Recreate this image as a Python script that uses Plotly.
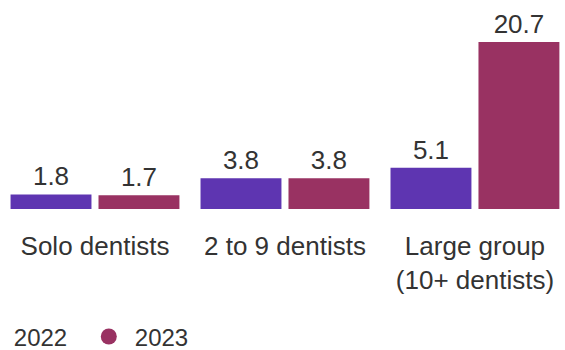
import plotly.graph_objects as go

categories = ["Solo dentists", "2 to 9 dentists", "Large group<br>(10+ dentists)"]
series_names = ["2022", "2023"]
values_2022 = [1.8, 3.8, 5.1]
values_2023 = [1.7, 3.8, 20.7]
colors = ["#5E35B1", "#993262"]

FONT = "Liberation Sans, Arial, sans-serif"
TXT = "#333333"

fig = go.Figure()
for name, vals, col in zip(series_names, [values_2022, values_2023], colors):
    fig.add_trace(go.Bar(
        x=categories, y=vals, name=name, marker=dict(color=col, line=dict(width=0)),
        text=[f"{v:.1f}" for v in vals], textposition="outside", cliponaxis=False,
        textfont=dict(family=FONT, size=26, color=TXT), showlegend=False,
    ))
    fig.add_trace(go.Scatter(
        x=[None], y=[None], mode="markers", name=name,
        marker=dict(color=col, size=20, symbol="circle"), showlegend=True,
    ))

fig.update_layout(
    width=565, height=350,
    margin=dict(l=0, r=0, t=0, b=141, autoexpand=False),
    paper_bgcolor="white", plot_bgcolor="white",
    barmode="group", bargap=0.074, bargroupgap=0.08,
    font=dict(family=FONT, color=TXT, size=26),
    xaxis=dict(range=[-0.5, 2.474], showgrid=False, zeroline=False, showline=False,
               ticks="", tickfont=dict(size=26, color=TXT), ticklabelstandoff=19),
    yaxis=dict(range=[0, 25.9], visible=False),
    legend=dict(orientation="h", x=-0.0676, xanchor="left", y=-0.612, yanchor="middle",
                font=dict(size=24, color=TXT), itemwidth=42, entrywidth=64,
                bgcolor="rgba(0,0,0,0)"),
)

fig.write_html("out.html", config={"displayModeBar": False},
               post_script="document.body.style.margin='0';document.body.style.padding='0';")
